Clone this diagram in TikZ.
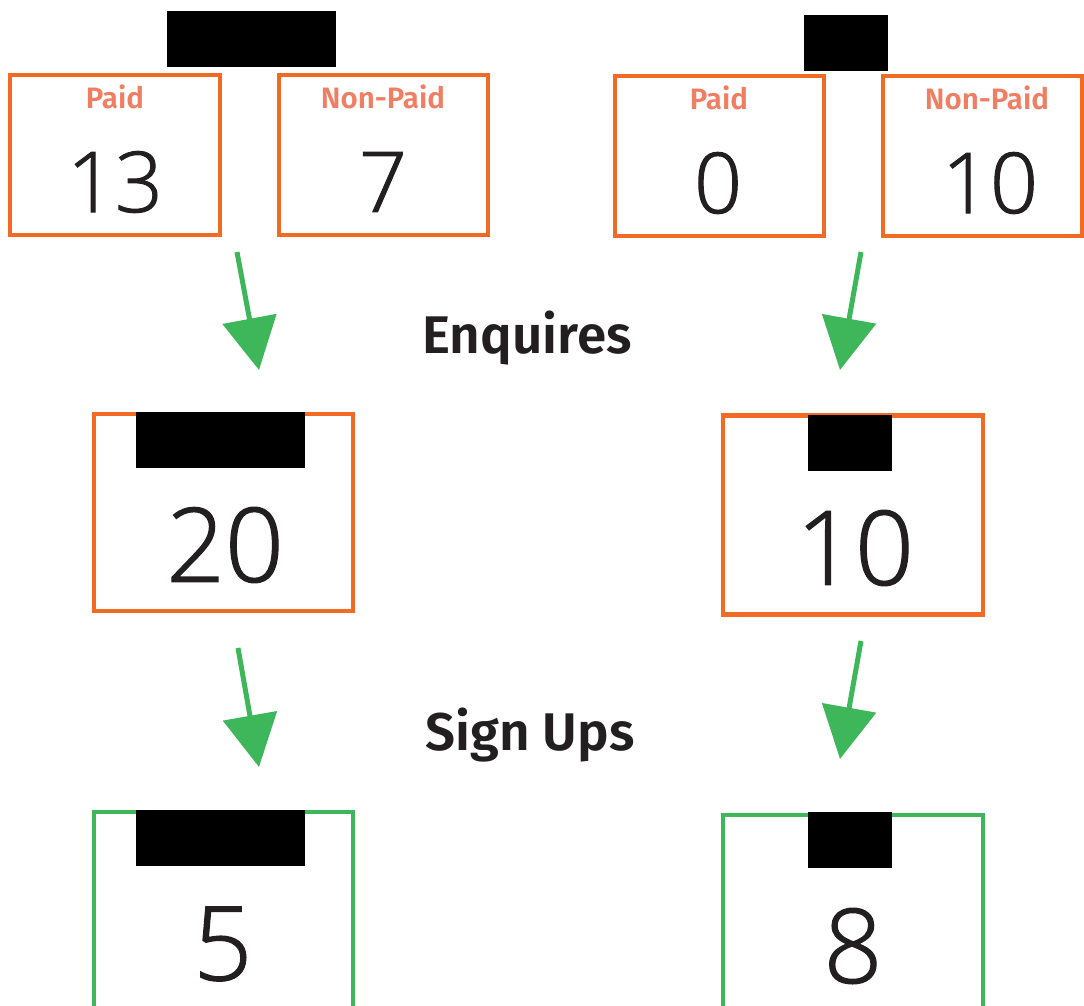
\documentclass[tikz,border=0pt]{standalone}
\usepackage{fontspec}
\setmainfont{Fira Sans}
\newfontfamily\numfont{Open Sans}[UprightFont={* Light}, FakeBold=1.2]
\newfontfamily\semifont{Fira Sans}[UprightFont={* SemiBold}]
\usetikzlibrary{arrows.meta}
\definecolor{boxorange}{HTML}{F26A24}
\definecolor{lblsalmon}{HTML}{F07E62}
\definecolor{arrgreen}{HTML}{3EB75B}
\definecolor{txtdark}{HTML}{231F20}
\tikzset{
  obox/.style={draw=boxorange, line width=4.5pt, rectangle, inner sep=0pt},
  gline/.style={draw=arrgreen, line width=4.5pt},
  redact/.style={fill=black, draw=none, rectangle, inner sep=0pt},
  lbl/.style={text=lblsalmon, font=\semifont\fontsize{29.5}{29.5}\selectfont, inner sep=0pt},
  numA/.style={text=txtdark, font=\numfont\fontsize{84}{84}\selectfont, inner sep=0pt},
  numB/.style={text=txtdark, font=\numfont\fontsize{103}{103}\selectfont, inner sep=0pt},
  head/.style={text=txtdark, font=\semifont\fontsize{53}{53}\selectfont, inner sep=0pt, anchor=base},
  arr/.style={draw=arrgreen, line width=5pt, -{Triangle[length=52pt, width=54pt]}}
}
\begin{document}
\begin{tikzpicture}[x=1pt, y=-1pt]
\useasboundingbox (0,0) rectangle (1084,1005);
% top redactions
\node[redact, minimum width=169, minimum height=56] (r1) at (251.5,39) {};
\node[redact, minimum width=84, minimum height=56] (r2) at (846,43) {};
% top boxes
\node[obox, minimum width=210, minimum height=160] (b1) at (115,155) {};
\node[obox, minimum width=209, minimum height=160] (b2) at (383.5,155) {};
\node[obox, minimum width=209, minimum height=160] (b3) at (719.5,156) {};
\node[obox, minimum width=199, minimum height=160] (b4) at (982.5,156) {};
\node[lbl] (l1) at (115,97) {Paid};
\node[lbl] (l2) at (383,97) {Non-Paid};
\node[lbl] (l3) at (719,98) {Paid};
\node[lbl] (l4) at (987,98) {Non-Paid};
\node[numA] (n1) at (115,182) {13};
\node[numA] (n2) at (383,182) {7};
\node[numA] (n3) at (718,183) {0};
\node[numA] (n4) at (990,183) {10};
% arrows row 1
\coordinate (a1s) at (237,252); \coordinate (a1e) at (259,370);
\coordinate (a2s) at (861,252); \coordinate (a2e) at (840,370);
\draw[arr] (a1s) -- (a1e);
\draw[arr] (a2s) -- (a2e);
\node[head] (h1) at (527,353) {Enquires};
% middle boxes
\node[obox, minimum width=259, minimum height=197] (m1) at (223.5,512.5) {};
\node[obox, minimum width=260, minimum height=199] (m2) at (853,515) {};
\node[redact, minimum width=169, minimum height=56] (r3) at (220.5,440) {};
\node[redact, minimum width=84, minimum height=56] (r4) at (850,443) {};
\node[numB] (n5) at (225,545) {20};
\node[numB] (n6) at (855,548) {10};
% arrows row 2
\coordinate (a3s) at (238,648); \coordinate (a3e) at (259,767);
\coordinate (a4s) at (861,641); \coordinate (a4e) at (840,759);
\draw[arr] (a3s) -- (a3e);
\draw[arr] (a4s) -- (a4e);
\node[head] (h2) at (530,750) {Sign Ups};
% bottom boxes (open at bottom)
\draw[gline] (94,1008) -- (94,812) -- (353,812) -- (353,1008);
\draw[gline] (723,1008) -- (723,815) -- (983,815) -- (983,1008);
\node[redact, minimum width=169, minimum height=56] (r5) at (220.5,838) {};
\node[redact, minimum width=84, minimum height=56] (r6) at (850,840) {};
\node[numB] (n7) at (223,944) {5};
\node[numB] (n8) at (853,946) {8};
\end{tikzpicture}
\end{document}
